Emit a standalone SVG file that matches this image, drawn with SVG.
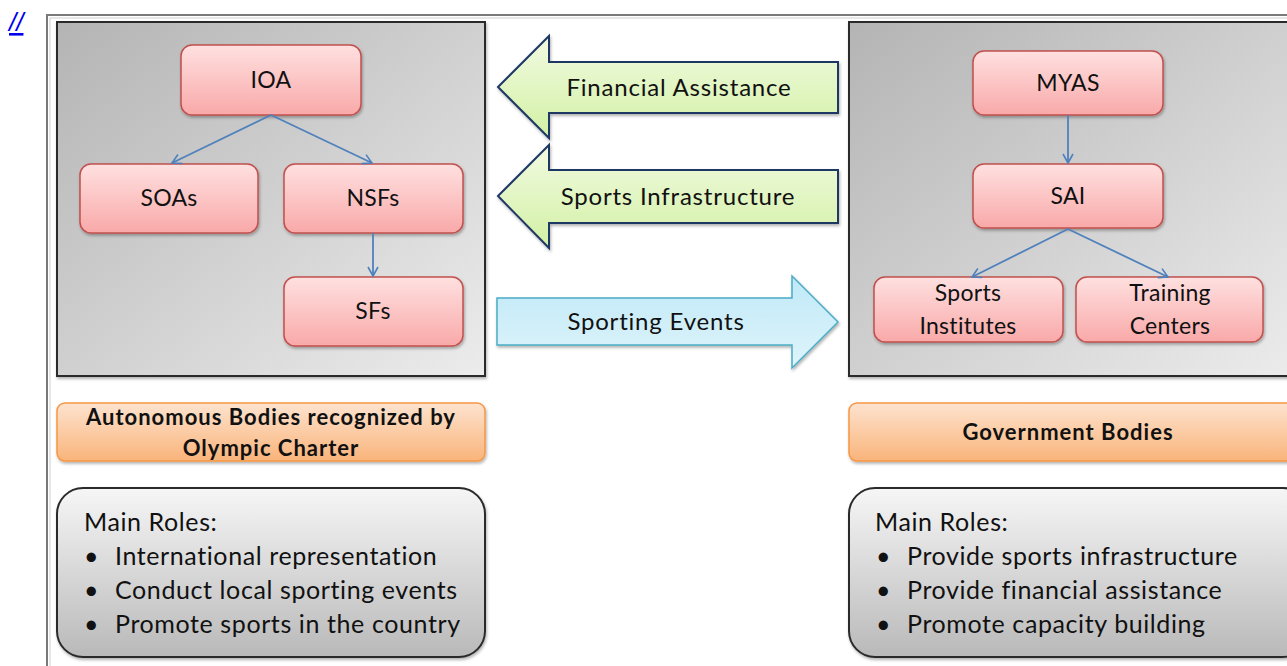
<svg xmlns="http://www.w3.org/2000/svg" width="1287" height="666" viewBox="0 0 1287 666">
<defs>
  <linearGradient id="gbox" x1="0" y1="0" x2="1" y2="1">
    <stop offset="0" stop-color="#b4b4b4"/>
    <stop offset="1" stop-color="#ececec"/>
  </linearGradient>
  <linearGradient id="pink" x1="0" y1="0" x2="0" y2="1">
    <stop offset="0" stop-color="#ffe0e0"/>
    <stop offset="1" stop-color="#f9a9a9"/>
  </linearGradient>
  <linearGradient id="green" x1="0" y1="0" x2="0" y2="1">
    <stop offset="0" stop-color="#f2fbe2"/>
    <stop offset="1" stop-color="#d2f0a4"/>
  </linearGradient>
  <linearGradient id="blue" x1="0" y1="0" x2="0" y2="1">
    <stop offset="0" stop-color="#bfe9f7"/>
    <stop offset="1" stop-color="#dff4fb"/>
  </linearGradient>
  <linearGradient id="orange" x1="0" y1="0" x2="0" y2="1">
    <stop offset="0" stop-color="#fde3cf"/>
    <stop offset="1" stop-color="#f9b47a"/>
  </linearGradient>
  <linearGradient id="roles" x1="0" y1="0" x2="0" y2="1">
    <stop offset="0" stop-color="#f6f6f6"/>
    <stop offset="1" stop-color="#b9b9b9"/>
  </linearGradient>
  <filter id="sh" x="-10%" y="-10%" width="120%" height="130%">
    <feDropShadow dx="1" dy="2" stdDeviation="1.5" flood-color="#000" flood-opacity="0.3"/>
  </filter>
  <marker id="ah" viewBox="0 0 12 12" refX="10" refY="6" markerWidth="12" markerHeight="12" markerUnits="userSpaceOnUse" orient="auto">
    <path d="M1,1 L10,6 L1,11" fill="none" stroke="#4f81bd" stroke-width="1.6"/>
  </marker>
  <style>
    .t { font-family: Lato, "Liberation Sans", sans-serif; fill: #111; }
    .node rect { fill: url(#pink); stroke: #c0504d; stroke-width: 1.5; filter: url(#sh); }
    .node text { font-size: 23px; text-anchor: middle; letter-spacing: 0.3px; }
    .panel { fill: url(#gbox); stroke: #2b2b2b; stroke-width: 2; filter: url(#sh); }
    .conn line { stroke: #4f81bd; stroke-width: 1.8; marker-end: url(#ah); }
    .garrow { fill: url(#green); stroke: #1f3864; stroke-width: 2; filter: url(#sh); }
    .barrow { fill: url(#blue); stroke: #4bacc6; stroke-width: 1.5; filter: url(#sh); }
    .alabel { font-size: 24px; text-anchor: middle; letter-spacing: 0.8px; }
    .obox { fill: url(#orange); stroke: #f79646; stroke-width: 1.5; filter: url(#sh); }
    .olabel { font-size: 22px; font-weight: bold; text-anchor: middle; letter-spacing: 1px; }
    .rbox { fill: url(#roles); stroke: #2b2b2b; stroke-width: 2; filter: url(#sh); }
    .rtext { font-size: 25px; letter-spacing: 0.6px; }
  </style>
</defs>

<rect x="0" y="0" width="1287" height="666" fill="#ffffff"/>

<!-- link -->
<text x="9" y="31" font-family="Liberation Sans, sans-serif" font-size="26" font-style="italic" fill="#0000ee" text-decoration="underline">//</text>

<!-- outer frame -->
<rect x="47" y="15" width="1260" height="700" fill="#ffffff" stroke="#7a7a7a" stroke-width="2"/>
<rect x="50" y="18" width="1260" height="700" fill="none" stroke="#d0d0d0" stroke-width="1"/>

<!-- panels -->
<g id="panel-left"><rect class="panel" x="57" y="22" width="428" height="354"/></g>
<g id="panel-right"><rect class="panel" x="849" y="22" width="450" height="354"/></g>

<!-- left nodes -->
<g id="ioa" class="node t"><rect x="181" y="45" width="180" height="70" rx="11"/><text x="271" y="88">IOA</text></g>
<g id="soas" class="node t"><rect x="80" y="164" width="178" height="69" rx="11"/><text x="169" y="206">SOAs</text></g>
<g id="nsfs" class="node t"><rect x="284" y="164" width="179" height="69" rx="11"/><text x="373" y="206">NSFs</text></g>
<g id="sfs" class="node t"><rect x="284" y="277" width="179" height="69" rx="11"/><text x="373" y="319">SFs</text></g>

<!-- right nodes -->
<g id="myas" class="node t"><rect x="973" y="51" width="190" height="64" rx="11"/><text x="1068" y="91">MYAS</text></g>
<g id="sai" class="node t"><rect x="973" y="164" width="190" height="64" rx="11"/><text x="1068" y="204">SAI</text></g>
<g id="sports-institutes" class="node t"><rect x="874" y="277" width="189" height="65" rx="11"/><text x="968" y="301">Sports</text><text x="968" y="334">Institutes</text></g>
<g id="training-centers" class="node t"><rect x="1076" y="277" width="187" height="65" rx="11"/><text x="1170" y="301">Training</text><text x="1170" y="334">Centers</text></g>

<!-- connectors -->
<g id="connectors" class="conn">
  <line x1="271" y1="115" x2="172" y2="163"/>
  <line x1="271" y1="115" x2="372" y2="163"/>
  <line x1="373" y1="233" x2="373" y2="276"/>
  <line x1="1068" y1="115" x2="1068" y2="163"/>
  <line x1="1068" y1="229" x2="972" y2="277"/>
  <line x1="1068" y1="229" x2="1168" y2="277"/>
</g>

<!-- flow arrows -->
<g id="arrow-financial">
  <path class="garrow" d="M498,87 L549,36 L549,62 L838,62 L838,113 L549,113 L549,138 Z"/>
  <text class="t alabel" x="679" y="96">Financial Assistance</text>
</g>
<g id="arrow-infrastructure">
  <path class="garrow" d="M498,196 L549,145 L549,170 L838,170 L838,223 L549,223 L549,248 Z"/>
  <text class="t alabel" x="678" y="205">Sports Infrastructure</text>
</g>
<g id="arrow-events">
  <path class="barrow" d="M497,298 L792,298 L792,276 L838,322 L792,368 L792,345 L497,345 Z"/>
  <text class="t alabel" x="656" y="330">Sporting Events</text>
</g>

<!-- labels -->
<g id="label-autonomous">
  <rect class="obox" x="57" y="403" width="428" height="58" rx="8"/>
  <text class="t olabel" x="271" y="425">Autonomous Bodies recognized by</text>
  <text class="t olabel" x="271" y="456">Olympic Charter</text>
</g>
<g id="label-government">
  <rect class="obox" x="849" y="403" width="450" height="58" rx="8"/>
  <text class="t olabel" x="1068" y="440">Government Bodies</text>
</g>

<!-- roles -->
<g id="roles-left">
  <rect class="rbox" x="57" y="488" width="428" height="169" rx="26"/>
  <text class="t rtext" x="84" y="531">Main Roles:</text>
  <text class="t rtext" x="84" y="565">•</text><text class="t rtext" x="115" y="565">International representation</text>
  <text class="t rtext" x="84" y="599">•</text><text class="t rtext" x="115" y="599">Conduct local sporting events</text>
  <text class="t rtext" x="84" y="633">•</text><text class="t rtext" x="115" y="633">Promote sports in the country</text>
</g>
<g id="roles-right">
  <rect class="rbox" x="849" y="488" width="460" height="169" rx="26"/>
  <text class="t rtext" x="875" y="531">Main Roles:</text>
  <text class="t rtext" x="876" y="565">•</text><text class="t rtext" x="907" y="565">Provide sports infrastructure</text>
  <text class="t rtext" x="876" y="599">•</text><text class="t rtext" x="907" y="599">Provide financial assistance</text>
  <text class="t rtext" x="876" y="633">•</text><text class="t rtext" x="907" y="633">Promote capacity building</text>
</g>
</svg>
